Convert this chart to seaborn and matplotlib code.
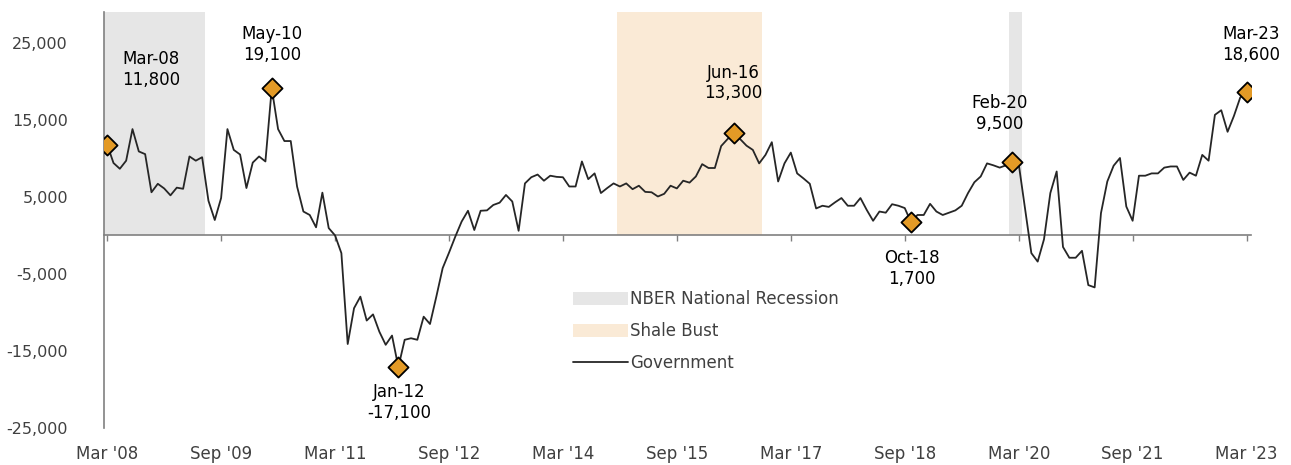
import matplotlib
matplotlib.use("Agg")
import matplotlib.pyplot as plt
import seaborn as sns
import pandas as pd
import numpy as np
from matplotlib.lines import Line2D
from matplotlib.patches import Patch

# Monthly government employment change, Mar 2008 - Mar 2023
START = "2008-03-01"
values = [
    11800, 9400, 8650, 9700, 13800, 10900, 10550, 5600, 6700, 6100,
    5200, 6200, 6050, 10250, 9700, 10150, 4500, 2000, 4850, 13800,
    11100, 10500, 6150, 9450, 10250, 9600, 19100, 13800, 12250, 12250,
    6350, 3100, 2650, 1050, 5550, 950, 0, -2300, -14100, -9450,
    -7950, -11050, -10250, -12500, -14200, -13000, -17100, -13550, -13350, -13550,
    -10550, -11500, -7950, -4250, -2250, -150, 1800, 3200, 700, 3200,
    3250, 3950, 4250, 5250, 4400, 600, 6750, 7550, 7900, 7100,
    7750, 7600, 7550, 6350, 6350, 9600, 7300, 8050, 5500, 6150,
    6750, 6350, 6750, 6000, 6450, 5650, 5600, 5050, 5400, 6450,
    6100, 7100, 6850, 7650, 9250, 8750, 8750, 11600, 12500, 13300,
    12500, 11650, 11100, 9350, 10450, 12100, 7000, 9350, 10750, 8050,
    7400, 6700, 3500, 3850, 3700, 4300, 4850, 3850, 3850, 4850,
    3300, 1900, 3100, 2950, 4050, 3850, 3550, 1700, 2650, 2650,
    4100, 3100, 2650, 2950, 3250, 3850, 5500, 6900, 7650, 9350,
    9100, 8800, 9100, 9500, 9300, 3500, -2300, -3400, -500, 5500,
    8300, -1500, -2900, -2900, -2000, -6450, -6750, 2900, 7000, 9050,
    10050, 3750, 1900, 7750, 7750, 8050, 8050, 8800, 8950, 8950,
    7200, 8150, 7750, 10450, 9700, 15650, 16250, 13450, 15500, 17900,
    18600,
]
dates = pd.date_range(START, periods=len(values), freq="MS")

# highlighted months (index into series) and label offsets (pixels)
highlight_idx = [0, 26, 46, 99, 127, 143, 180]
label_offsets = [(44, 75), (0, 44), (1, -35), (-1, 50), (1, -46), (-13, 49), (5, 48)]

# shaded periods as (first month index, last month index)
recessions = [(0, 15), (143, 144)]
shale_bust = (81, 103)

y_ticks = [-25000, -15000, -5000, 5000, 15000, 25000]
Y_MIN, Y_TOP = -25000, 29000
tick_every = 18

df = pd.DataFrame({"month": np.arange(len(values)), "value": values, "date": dates})

sns.set_style("white")
plt.rcParams["font.family"] = ["DejaVu Sans"]

LINE = "#262626"
GREY_TXT = "#404040"
AXIS = "#808080"

fig = plt.figure(figsize=(12.91, 4.65), dpi=100)
ax = fig.add_axes([104 / 1291, 1 - 428 / 465, (1251 - 104) / 1291, (428 - 12) / 465])

# shaded spans, drawn from zero up to the top
for a, b in recessions:
    ax.fill_between([a - 0.5, b + 0.5], 0, Y_TOP, color="#E6E6E6", lw=0, zorder=0)
ax.fill_between([shale_bust[0] - 0.5, shale_bust[1] + 0.5], 0, Y_TOP,
                color="#FAEAD6", lw=0, zorder=0)

sns.lineplot(data=df, x="month", y="value", color=LINE, lw=1.3, ax=ax, zorder=3)

hl = df.iloc[highlight_idx]
sns.scatterplot(data=hl, x="month", y="value", marker="D", s=105, color="#E39A26",
                edgecolor="black", linewidth=1.3, ax=ax, zorder=4)

for (_, row), (dx, dy) in zip(hl.iterrows(), label_offsets):
    txt = f"{row['date'].strftime('%b-%y')}\n{int(row['value']):,}"
    ax.annotate(txt, xy=(row["month"], row["value"]), xytext=(dx, dy),
                textcoords="offset pixels", ha="center", va="center",
                fontsize=12, color="black", linespacing=1.2, annotation_clip=False)

ax.set_xlim(-0.5, 180.7)
ax.set_ylim(Y_MIN, Y_TOP)
ax.set_xlabel("")
ax.set_ylabel("")

# axis styling: left spine and zero line
for s in ["top", "right"]:
    ax.spines[s].set_visible(False)
ax.spines["left"].set_color(AXIS)
ax.spines["left"].set_linewidth(1.2)
ax.spines["bottom"].set_position(("data", 0))
ax.spines["bottom"].set_color(AXIS)
ax.spines["bottom"].set_linewidth(1.2)

ticks = list(range(0, len(values), tick_every))
ax.set_xticks(ticks)
ax.tick_params(axis="x", which="both", direction="out", length=4, width=1, color=AXIS,
               labelbottom=False, bottom=True)

ax.set_yticks(y_ticks)
ax.set_yticklabels([f"{t:,}" for t in y_ticks])
ax.tick_params(axis="y", length=0, pad=26, labelsize=11.5, labelcolor=GREY_TXT)

sec = ax.secondary_xaxis("bottom")
sec.set_xticks(ticks)
sec.set_xticklabels([dates[t].strftime("%b '%y") for t in ticks])
sec.tick_params(length=0, pad=12, labelsize=12, labelcolor=GREY_TXT)
sec.spines["bottom"].set_visible(False)

handles = [
    Patch(facecolor="#E6E6E6", edgecolor="none"),
    Patch(facecolor="#FAEAD6", edgecolor="none"),
    Line2D([0], [0], color=LINE, lw=1.3),
]
labels = ["NBER National Recession", "Shale Bust", "Government"]
fig.legend(handles, labels, loc="upper left", bbox_to_anchor=(565 / 1291, 1 - 282 / 465),
           frameon=False, fontsize=12, labelcolor=GREY_TXT, handlelength=3.3,
           handleheight=0.8, handletextpad=0.1, labelspacing=0.82, borderpad=0)

fig.savefig("out.png", dpi=100)
